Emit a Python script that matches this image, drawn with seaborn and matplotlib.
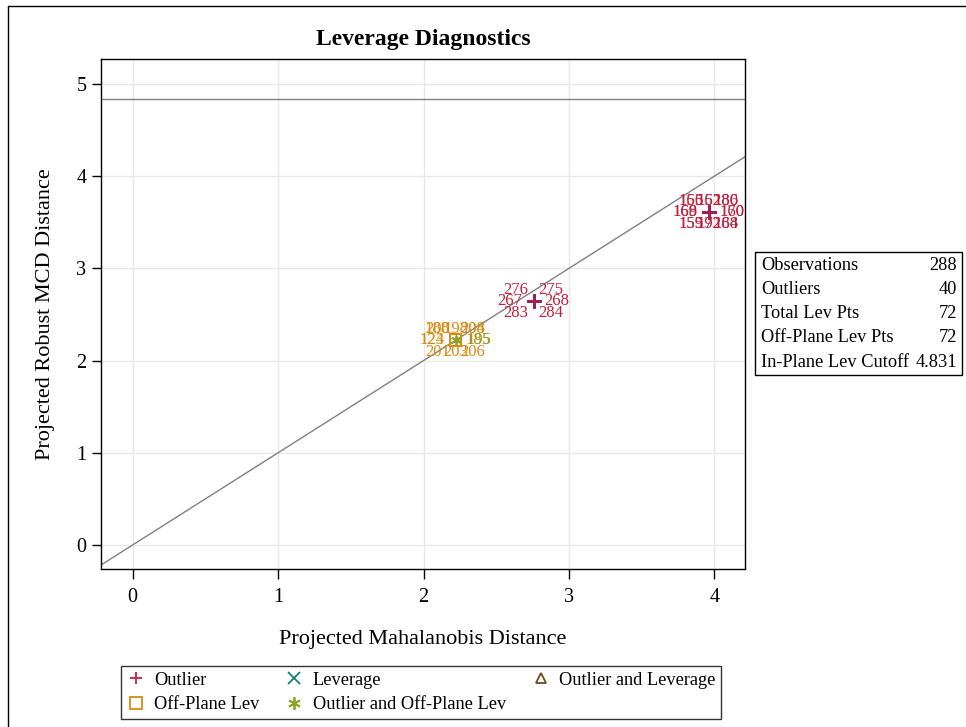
import matplotlib
matplotlib.use("Agg")
import matplotlib.pyplot as plt
import seaborn as sns
import pandas as pd
from matplotlib.lines import Line2D
from matplotlib.patches import Rectangle

# ---------------- data ----------------
categories = ["Outlier", "Leverage", "Outlier and Leverage",
              "Off-Plane Lev", "Outlier and Off-Plane Lev"]

outlier_a_x, outlier_a_y = 3.96, 3.61
outlier_a_labels = ["156", "186", "169", "160", "155", "188", "152", "192",
                    "165", "180", "168", "170", "159", "164", "162", "172"]

outlier_b_x, outlier_b_y = 2.76, 2.65
outlier_b_labels = ["276", "275", "267", "268", "283", "284"]

offplane_x, offplane_y = 2.22, 2.22
offplane_labels = ["200", "208", "124", "185", "201", "206", "198", "203",
                   "188", "204", "123"]
out_offplane_labels = ["195"]

cutoff = 4.831
stat_names = ["Observations", "Outliers", "Total Lev Pts",
              "Off-Plane Lev Pts", "In-Plane Lev Cutoff"]
stat_values = ["288", "40", "72", "72", "4.831"]

x_ticks = [0, 1, 2, 3, 4]
y_ticks = [0, 1, 2, 3, 4, 5]

# ---------------- style ----------------
sns.set_style("ticks")
plt.rcParams["font.family"] = ["Liberation Serif", "DejaVu Serif"]
plt.rcParams["text.color"] = "black"
plt.rcParams["axes.labelcolor"] = "black"
plt.rcParams["xtick.color"] = "black"
plt.rcParams["ytick.color"] = "black"

colors = {"Outlier": "#C41E3A", "Leverage": "#13807A",
          "Outlier and Leverage": "#6B4A1E", "Off-Plane Lev": "#D98A0F",
          "Outlier and Off-Plane Lev": "#8DA323"}
plus_color = "#A01E50"

rows = []
for lab in outlier_a_labels:
    rows.append(dict(x=outlier_a_x, y=outlier_a_y, group="Outlier", label=lab))
for lab in outlier_b_labels:
    rows.append(dict(x=outlier_b_x, y=outlier_b_y, group="Outlier", label=lab))
for lab in offplane_labels:
    rows.append(dict(x=offplane_x, y=offplane_y, group="Off-Plane Lev", label=lab))
for lab in out_offplane_labels:
    rows.append(dict(x=offplane_x, y=offplane_y, group="Outlier and Off-Plane Lev", label=lab))
df = pd.DataFrame(rows)

W, H = 966, 727
fig = plt.figure(figsize=(W / 100, H / 100), dpi=100)
ax = fig.add_axes([101 / W, 1 - 569 / H, 644 / W, 510 / H])

ax.set_xlim(-0.217, 4.21)
ax.set_ylim(-0.26, 5.27)
ax.set_xticks(x_ticks)
ax.set_yticks(y_ticks)
ax.grid(True, color="#E8E8E8", linewidth=1.0)
ax.set_axisbelow(True)
for s in ax.spines.values():
    s.set_color("black")
    s.set_linewidth(1.0)
ax.tick_params(direction="out", width=1, labelsize=14.5, color="black", labelcolor="black")
ax.tick_params(axis="x", length=7.5, pad=6)
ax.tick_params(axis="y", length=6.5, pad=4)

ax.axhline(cutoff, color="#808080", linewidth=1.0, zorder=2)
ax.axline((0, 0), slope=1, color="#808080", linewidth=1.0, zorder=2)

# points
sub = df[df.group == "Off-Plane Lev"]
sns.scatterplot(data=sub, x="x", y="y", ax=ax, marker="s", s=70, legend=False,
                facecolor="none", edgecolor=colors["Off-Plane Lev"], linewidth=1.3, zorder=3)
sub = df[df.group == "Outlier and Off-Plane Lev"]
sns.scatterplot(data=sub, x="x", y="y", ax=ax, marker=(6, 2, 0), s=45, legend=False,
                color=colors["Outlier and Off-Plane Lev"], linewidth=1.3, zorder=4)
sub = df[df.group == "Outlier"]
sns.scatterplot(data=sub, x="x", y="y", ax=ax, marker="+", s=90, legend=False,
                color=plus_color, linewidth=1.8, zorder=4)

# labels placed around coincident points
slots = [(-18, 11), (17, 11), (-24, 0), (23, 0), (-18, -12), (17, -12), (0, 11), (0, -12)]
text_color = {"Outlier": "#C41E3A", "Off-Plane Lev": "#D98A0F",
              "Outlier and Off-Plane Lev": "#8DA323"}
for (px, py), g in df.groupby(["x", "y"], sort=False):
    for i, (_, r) in enumerate(g.iterrows()):
        dx, dy = slots[i % len(slots)]
        ax.annotate(r["label"], (r["x"], r["y"]), xytext=(dx, dy),
                    textcoords="offset pixels", ha="center", va="center",
                    fontsize=12, color=text_color[r["group"]], zorder=5)

ax.set_xlabel("Projected Mahalanobis Distance", fontsize=16, labelpad=17)
ax.set_ylabel("Projected Robust MCD Distance", fontsize=16, labelpad=15)
ax.set_title("Leverage Diagnostics", fontsize=17, fontweight="bold", pad=10)

# inset stats table
bx0, by0, bx1, by1 = 755, 252, 962, 375
fig.patches.append(Rectangle((bx0 / W, 1 - by1 / H), (bx1 - bx0) / W, (by1 - by0) / H,
                             transform=fig.transFigure, fill=False,
                             edgecolor="black", linewidth=1.0))
for i, (n, v) in enumerate(zip(stat_names, stat_values)):
    yy = 1 - (265 + i * 24.3) / H
    fig.text(761 / W, yy, n, ha="left", va="center", fontsize=13.2)
    fig.text(957 / W, yy, v, ha="right", va="center", fontsize=13.2)

# legend
handles = [
    Line2D([], [], marker="+", linestyle="none", color=colors["Outlier"], markersize=9, mew=1.3),
    Line2D([], [], marker="s", linestyle="none", markerfacecolor="none",
           markeredgecolor=colors["Off-Plane Lev"], markersize=8, mew=1.3),
    Line2D([], [], marker="x", linestyle="none", color=colors["Leverage"], markersize=8, mew=1.3),
    Line2D([], [], marker=(6, 2, 0), linestyle="none", color=colors["Outlier and Off-Plane Lev"],
           markersize=9, mew=1.3),
    Line2D([], [], marker="^", linestyle="none", markerfacecolor="none",
           markeredgecolor=colors["Outlier and Leverage"], markersize=7, mew=1.3),
]
labels = [categories[0], categories[3], categories[1], categories[4], categories[2]]
leg = fig.legend(handles, labels, ncol=3, loc="center", bbox_to_anchor=(421 / W, 1 - 692.5 / H),
                 fontsize=13.2, frameon=True, fancybox=False, edgecolor="black",
                 handlelength=1.0, handletextpad=0.5, columnspacing=1.4,
                 borderpad=0.3, labelspacing=0.4)
leg.get_frame().set_linewidth(1.0)

# outer border (left and top visible)
fig.add_artist(Line2D([8 / W, 8 / W], [0, 1 - 6 / H], transform=fig.transFigure, color="black", lw=1))
fig.add_artist(Line2D([8 / W, 1], [1 - 6 / H, 1 - 6 / H], transform=fig.transFigure, color="black", lw=1))

fig.savefig("out.png", dpi=100)
